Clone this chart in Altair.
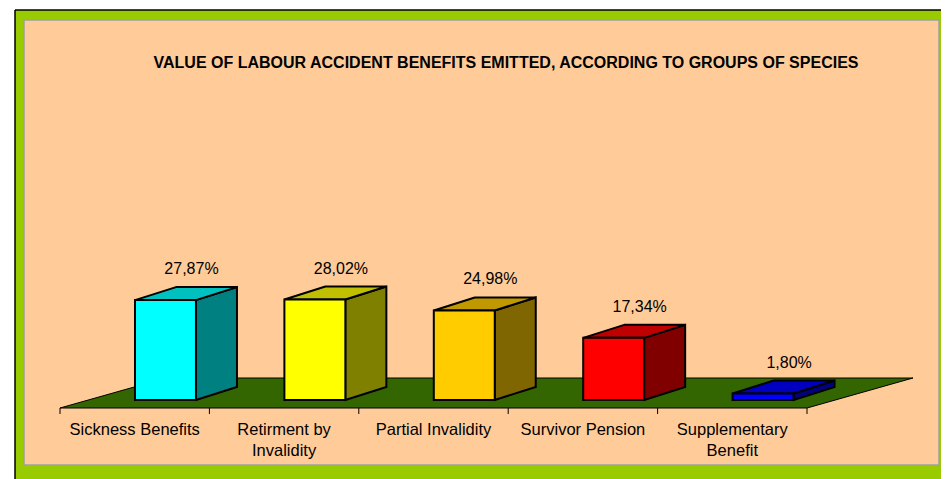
import altair as alt
import pandas as pd

# ---------------- data ----------------
categories = ["Sickness Benefits", "Retirment by\nInvalidity", "Partial Invalidity",
              "Survivor Pension", "Supplementary\nBenefit"]
values = [27.87, 28.02, 24.98, 17.34, 1.80]
value_labels = ["27,87%", "28,02%", "24,98%", "17,34%", "1,80%"]
front_colors = ["#00FFFF", "#FFFF00", "#FFCC00", "#FF0000", "#0000FF"]
top_colors = ["#00C0C0", "#C0C000", "#C09900", "#C00000", "#0000C0"]
side_colors = ["#008080", "#808000", "#806600", "#800000", "#000080"]
title_text = "VALUE OF LABOUR ACCIDENT BENEFITS EMITTED, ACCORDING TO GROUPS OF SPECIES"

# ---------------- layout / 3D projection settings ----------------
W, H = 926, 469                 # plot area (green frame region)
PX_PER_SLOT = 149.4             # pixels per category slot
SLOT0_PX = 45.0                 # plot-area x of first slot edge
PX_PER_PCT = 3.585              # pixels per percentage point
ZERO_PY = 390.0                 # plot-area y of 0 %

x_scale = alt.Scale(domain=[-SLOT0_PX / PX_PER_SLOT, (W - SLOT0_PX) / PX_PER_SLOT],
                    nice=False, zero=False)
y_scale = alt.Scale(domain=[-(H - ZERO_PY) / PX_PER_PCT, ZERO_PY / PX_PER_PCT],
                    nice=False, zero=False)

FLOOR_FRONT = -8 / PX_PER_PCT           # floor front edge level
FLOOR_DY = 30 / PX_PER_PCT               # floor depth (vertical shift)
FLOOR_DX = 106 / PX_PER_SLOT             # floor depth (horizontal shift)
BAR_L, BAR_R = 0.502, 0.910              # bar front face within slot
BAR_DX = 41 / PX_PER_SLOT                # bar depth shift
BAR_DY = 13 / PX_PER_PCT
TICK_LEN = 6 / PX_PER_PCT
LABEL_DX = 26 / PX_PER_SLOT
LABEL_DY = 31 / PX_PER_PCT
CAT_BASE = -35 / PX_PER_PCT
n = len(categories)

# ---------------- tables built from the arrays ----------------
front = pd.DataFrame({
    "cat": categories,
    "x": [i + BAR_L for i in range(n)],
    "x2": [i + BAR_R for i in range(n)],
    "y": [0.0] * n,
    "y2": values,
    "col": front_colors,
})

side_rows, top_rows = [], []
for i, (c, v) in enumerate(zip(categories, values)):
    fr, fl = i + BAR_R, i + BAR_L
    side_rows.append({"cat": c, "x": fr, "y": 0.0, "y2": v, "col": side_colors[i]})
    side_rows.append({"cat": c, "x": fr + BAR_DX, "y": BAR_DY, "y2": v + BAR_DY, "col": side_colors[i]})
    top_rows.append({"cat": c, "y": v, "x": fl, "x2": fr, "col": top_colors[i]})
    top_rows.append({"cat": c, "y": v + BAR_DY, "x": fl + BAR_DX, "x2": fr + BAR_DX, "col": top_colors[i]})
side = pd.DataFrame(side_rows)
top = pd.DataFrame(top_rows)

floor = pd.DataFrame({
    "y": [FLOOR_FRONT, FLOOR_FRONT + FLOOR_DY],
    "x": [0.0, FLOOR_DX],
    "x2": [float(n), n + FLOOR_DX],
})

ticks = pd.DataFrame({"x": [float(i) for i in range(n + 1)],
                      "y": [FLOOR_FRONT] * (n + 1),
                      "y2": [FLOOR_FRONT - TICK_LEN] * (n + 1)})

vlabels = pd.DataFrame({
    "x": [i + (BAR_L + BAR_R) / 2 + LABEL_DX for i in range(n)],
    "y": [v + LABEL_DY for v in values],
    "t": value_labels,
})

clabels = pd.DataFrame({"x": [i + 0.5 for i in range(n)],
                        "y": [CAT_BASE] * n,
                        "t": categories})

FONT = "Liberation Sans"
one = pd.DataFrame({"a": [0]})

# ---------------- layers ----------------
panel = alt.Chart(one).mark_rect(
    fill="#FFCC99", stroke="#A0A0A0", strokeWidth=1.5
).encode(x=alt.value(9), x2=alt.value(W - 2), y=alt.value(10), y2=alt.value(455))

frame_left = alt.Chart(one).mark_rule(color="black", strokeWidth=1.5).encode(
    x=alt.value(0), y=alt.value(0), y2=alt.value(H))
frame_top = alt.Chart(one).mark_rule(color="black", strokeWidth=1.5).encode(
    x=alt.value(0), x2=alt.value(W), y=alt.value(0))

floor_l = alt.Chart(floor).mark_area(
    orient="horizontal", color="#336600", stroke="black", strokeWidth=1
).encode(
    y=alt.Y("y:Q", scale=y_scale, axis=None),
    x=alt.X("x:Q", scale=x_scale, axis=None, stack=None),
    x2="x2:Q",
)

tick_l = alt.Chart(ticks).mark_rule(color="black", strokeWidth=1).encode(
    x=alt.X("x:Q", scale=x_scale, axis=None),
    y=alt.Y("y:Q", scale=y_scale, axis=None),
    y2="y2:Q",
)

side_l = alt.Chart(side).mark_area(
    orient="vertical", stroke="black", strokeWidth=2
).encode(
    x=alt.X("x:Q", scale=x_scale, axis=None),
    y=alt.Y("y:Q", scale=y_scale, axis=None, stack=None),
    y2="y2:Q",
    color=alt.Color("col:N", scale=None),
    detail="cat:N",
)

top_l = alt.Chart(top).mark_area(
    orient="horizontal", stroke="black", strokeWidth=2
).encode(
    y=alt.Y("y:Q", scale=y_scale, axis=None),
    x=alt.X("x:Q", scale=x_scale, axis=None, stack=None),
    x2="x2:Q",
    color=alt.Color("col:N", scale=None),
    detail="cat:N",
)

front_l = alt.Chart(front).mark_rect(stroke="black", strokeWidth=2).encode(
    x=alt.X("x:Q", scale=x_scale, axis=None),
    x2="x2:Q",
    y=alt.Y("y:Q", scale=y_scale, axis=None),
    y2="y2:Q",
    color=alt.Color("col:N", scale=None),
)

vlab_l = alt.Chart(vlabels).mark_text(
    font=FONT, fontSize=16, color="black", align="center", baseline="middle"
).encode(
    x=alt.X("x:Q", scale=x_scale, axis=None),
    y=alt.Y("y:Q", scale=y_scale, axis=None),
    text="t:N",
)

clab_l = alt.Chart(clabels).mark_text(
    font=FONT, fontSize=16.5, color="black", align="center", baseline="alphabetic",
    lineBreak="\n", lineHeight=21
).encode(
    x=alt.X("x:Q", scale=x_scale, axis=None),
    y=alt.Y("y:Q", scale=y_scale, axis=None),
    text="t:N",
)

title_l = alt.Chart(pd.DataFrame({"t": [title_text]})).mark_text(
    font=FONT, fontSize=16, fontWeight="bold", color="black",
    align="center", baseline="alphabetic"
).encode(x=alt.value(491), y=alt.value(58.3), text="t:N")

chart = alt.layer(
    panel, frame_left, frame_top, floor_l, tick_l, side_l, top_l, front_l,
    vlab_l, clab_l, title_l
).properties(
    width=W, height=H,
    padding={"left": 7, "top": 2, "right": 0, "bottom": 0},
    autosize=alt.AutoSizeParams(type="none"),
).configure(
    background="white"
).configure_view(
    fill="#99CC00", strokeWidth=0
)

chart.save("out.html", embed_options={"renderer": "svg", "actions": False})
